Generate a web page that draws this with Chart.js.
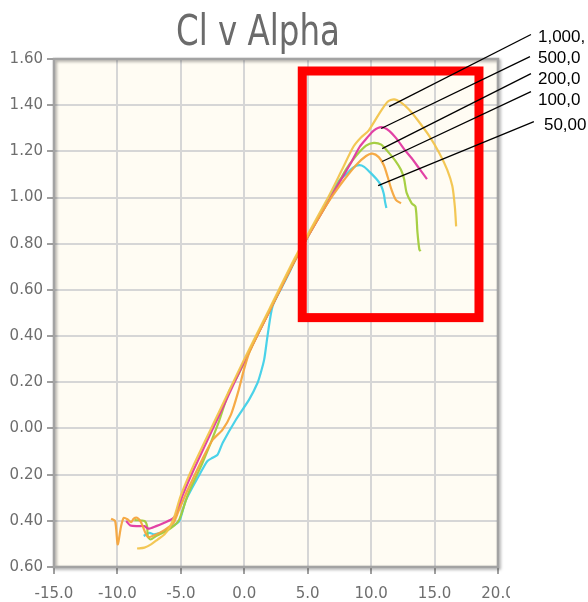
<!DOCTYPE html>
<html>
<head>
<meta charset="utf-8">
<script src="https://cdn.jsdelivr.net/npm/chart.js@4.4.1/dist/chart.umd.min.js"></script>
<style>
html, body { margin: 0; padding: 0; background: #fff; overflow: hidden; }
#wrap { position: relative; width: 588px; height: 602px; overflow: hidden; }
#clChart { position: absolute; left: -8px; top: 0; }
</style>
</head>
<body>
<div id="wrap"><canvas id="clChart" width="596" height="602"></canvas></div>
<script>
const titleText = 'Cl v Alpha';

// angle of attack (deg) and lift coefficient, one pair of arrays per Reynolds number
const alpha1M = [-8.45, -7.87, -7.35, -6.83, -6.3, -5.9, -5.5, -5.0, -4.0, -2.0, 0, 2, 4, 5, 6.7, 7.7, 8.6, 9.2, 9.8, 10.6, 11.3, 11.8, 12.4, 13.0, 13.6, 14.6, 15.4, 16.0, 16.4, 16.6, 16.7];
const cl1M = [-0.52, -0.516, -0.502, -0.481, -0.459, -0.43, -0.38, -0.29, -0.16, 0.07, 0.30, 0.52, 0.74, 0.84, 1.01, 1.12, 1.22, 1.26, 1.29, 1.36, 1.415, 1.425, 1.41, 1.38, 1.34, 1.265, 1.19, 1.12, 1.05, 0.96, 0.875];

const alpha500k = [-9.31, -8.98, -8.4, -7.87, -7.56, -6.95, -6.3, -5.65, -5.38, -4.86, -4, -2, 0, 2, 4, 5, 6.8, 8.3, 9.1, 9.7, 10.2, 10.8, 11.4, 12.0, 12.6, 13.2, 13.8, 14.4];
const cl500k = [-0.401, -0.42, -0.423, -0.423, -0.434, -0.423, -0.408, -0.391, -0.372, -0.29, -0.18, 0.055, 0.29, 0.51, 0.73, 0.83, 1.0, 1.14, 1.22, 1.26, 1.29, 1.305, 1.29, 1.255, 1.21, 1.17, 1.125, 1.08];

const alpha200k = [-8.66, -7.87, -7.66, -7.61, -7.4, -6.95, -6.17, -5.51, -5.12, -4.4, -3.3, -2.0, -1.2, -0.5, 1, 3, 5, 6.7, 8.0, 8.8, 9.6, 10.2, 10.8, 11.3, 11.9, 12.35, 12.6, 12.8, 13.2, 13.5, 13.65, 13.8, 13.9];
const cl200k = [-0.397, -0.401, -0.423, -0.466, -0.481, -0.466, -0.445, -0.42, -0.394, -0.28, -0.15, 0.03, 0.16, 0.23, 0.40, 0.62, 0.83, 0.99, 1.12, 1.18, 1.225, 1.237, 1.229, 1.2, 1.16, 1.12, 1.08, 1.02, 0.975, 0.96, 0.85, 0.775, 0.768];

const alpha100k = [-10.5, -10.18, -9.98, -9.71, -9.5, -9.19, -8.92, -8.72, -8.45, -8.19, -8.01, -7.6, -7.0, -6.3, -5.6, -5.2, -4.5, -4.07, -3.28, -2.5, -1.71, -1.05, -0.5, 0, 0.4, 1, 2, 3, 4, 5, 6.5, 7.5, 8.8, 9.6, 10.1, 10.6, 11.0, 11.3, 11.6, 11.95, 12.35];
const cl100k = [-0.391, -0.401, -0.502, -0.423, -0.387, -0.394, -0.406, -0.391, -0.387, -0.401, -0.423, -0.47, -0.46, -0.44, -0.41, -0.36, -0.27, -0.22, -0.13, -0.05, -0.005, 0.06, 0.155, 0.26, 0.33, 0.40, 0.51, 0.62, 0.73, 0.83, 0.97, 1.05, 1.14, 1.18, 1.19, 1.175, 1.14, 1.09, 1.035, 0.99, 0.975];

const alpha50k = [-7.93, -7.48, -7.09, -6.3, -5.65, -5.12, -4.6, -3.3, -2.9, -2.5, -2.1, -1.7, -0.65, 0.39, 1.05, 1.3, 1.57, 1.83, 2.23, 3.0, 3.54, 4, 5, 6, 7.0, 7.5, 8.0, 8.6, 9.05, 9.45, 9.9, 10.5, 10.8, 11.0, 11.1, 11.2];
const cl50k = [-0.466, -0.452, -0.459, -0.445, -0.423, -0.401, -0.31, -0.177, -0.141, -0.127, -0.113, -0.062, 0.039, 0.126, 0.198, 0.241, 0.299, 0.40, 0.53, 0.616, 0.674, 0.73, 0.83, 0.93, 1.03, 1.075, 1.1, 1.13, 1.14, 1.133, 1.11, 1.075, 1.05, 1.015, 0.98, 0.955];

// callout labels (cut off at the right edge in the source) and where their lines run, in axis units
const noteLabels = ['1,000,', '500,0', '200,0', '100,0', '50,00'];
const noteFromAlpha = [11.42, 10.79, 10.87, 10.87, 10.55];
const noteFromCl = [1.394, 1.299, 1.212, 1.156, 1.052];
const noteToAlpha = [22.6, 22.52, 22.6, 22.6, 22.83];
const noteToCl = [1.706, 1.61, 1.537, 1.459, 1.329];
const noteTextAlpha = [23.15, 23.15, 23.15, 23.15, 23.62];
const noteTextCl = [1.692, 1.604, 1.51, 1.42, 1.312];

// red highlight box corners, axis units
const boxAlpha = [4.57, 18.5];
const boxCl = [1.548, 0.48];

const toPoints = (xs, ys) => xs.map((x, i) => ({ x: x, y: ys[i] }));

const series = [
    { label: '1,000,000', xs: alpha1M, ys: cl1M, color: 'rgba(242,196,76,0.95)' },
    { label: '100,000', xs: alpha100k, ys: cl100k, color: 'rgba(245,165,60,0.95)' },
    { label: '500,000', xs: alpha500k, ys: cl500k, color: 'rgba(224,56,160,0.95)' },
    { label: '200,000', xs: alpha200k, ys: cl200k, color: 'rgba(162,204,58,0.95)' },
    { label: '50,000', xs: alpha50k, ys: cl50k, color: 'rgba(64,208,232,0.95)' }
];

const notes = {
    id: 'notes',
    beforeDraw: (chart) => {
        const { ctx, chartArea: a } = chart;
        ctx.save();
        ctx.fillStyle = '#fffcf3';
        ctx.fillRect(a.left, a.top, a.right - a.left, a.bottom - a.top);
        // narrow title: squeeze the glyphs sideways
        ctx.fillStyle = '#6b6b6b';
        ctx.font = '42px "DejaVu Sans Condensed", "DejaVu Sans", sans-serif';
        ctx.textAlign = 'center';
        ctx.textBaseline = 'alphabetic';
        ctx.translate(266, 45);
        ctx.scale(0.86, 1);
        ctx.fillText(titleText, 0, 0);
        ctx.restore();
        // the source picture is cropped: minus signs on the left, last x label on the right
        ctx.save();
        ctx.beginPath();
        ctx.rect(17, 0, 501, chart.height);
        ctx.clip();
    },
    beforeDatasetsDraw: (chart) => {
        const { ctx, chartArea: a } = chart;
        ctx.save();
        ctx.strokeStyle = '#a3a3a3';
        ctx.lineWidth = 2.5;
        ctx.shadowColor = 'rgba(0,0,0,0.35)';
        ctx.shadowBlur = 3;
        ctx.shadowOffsetX = 1.5;
        ctx.shadowOffsetY = 1.5;
        ctx.strokeRect(a.left, a.top, a.right - a.left, a.bottom - a.top);
        ctx.restore();
    },
    afterDraw: (chart) => {
        const { ctx, scales: { x, y } } = chart;
        ctx.restore();
        ctx.save();
        // red box
        const bx0 = x.getPixelForValue(boxAlpha[0]);
        const bx1 = x.getPixelForValue(boxAlpha[1]);
        const by0 = y.getPixelForValue(boxCl[0]);
        const by1 = y.getPixelForValue(boxCl[1]);
        ctx.strokeStyle = '#ff0000';
        ctx.lineWidth = 9;
        ctx.strokeRect(bx0, by0, bx1 - bx0, by1 - by0);
        // callout lines and text
        ctx.strokeStyle = '#000';
        ctx.lineWidth = 1.3;
        ctx.fillStyle = '#000';
        ctx.font = '17px "Liberation Sans", Arial, sans-serif';
        ctx.textAlign = 'left';
        ctx.textBaseline = 'middle';
        noteLabels.forEach((txt, i) => {
            ctx.beginPath();
            ctx.moveTo(x.getPixelForValue(noteFromAlpha[i]), y.getPixelForValue(noteFromCl[i]));
            ctx.lineTo(x.getPixelForValue(noteToAlpha[i]), y.getPixelForValue(noteToCl[i]));
            ctx.stroke();
            ctx.fillText(txt, x.getPixelForValue(noteTextAlpha[i]), y.getPixelForValue(noteTextCl[i]));
        });
        ctx.restore();
    }
};

const tickFont = { family: '"DejaVu Sans", Verdana, sans-serif', size: 15 };

const chart = new Chart(document.getElementById('clChart').getContext('2d'), {
    type: 'line',
    data: {
        datasets: series.map(s => ({
            label: s.label,
            data: toPoints(s.xs, s.ys),
            borderColor: s.color,
            borderWidth: 2.2,
            pointRadius: 0,
            tension: 0.25,
            fill: false
        }))
    },
    options: {
        responsive: false,
        animation: false,
        layout: { padding: { top: 59, right: 90, left: 0, bottom: 0 } },
        plugins: {
            legend: { display: false },
            tooltip: { enabled: false },
            title: { display: false }
        },
        scales: {
            x: {
                type: 'linear',
                min: -15,
                max: 20,
                afterFit: (scale) => { scale.height = 35; },
                ticks: {
                    stepSize: 5,
                    color: '#6e6e6e',
                    font: tickFont,
                    padding: 11,
                    maxRotation: 0,
                    callback: (v) => v.toFixed(1)
                },
                grid: { color: '#d6d6d6', lineWidth: 2, tickColor: '#a0a0a0', tickLength: 7, tickWidth: 2 },
                border: { display: false }
            },
            y: {
                type: 'linear',
                min: -0.6,
                max: 1.6,
                afterFit: (scale) => { scale.width = 62; },
                ticks: {
                    stepSize: 0.2,
                    color: '#6e6e6e',
                    font: tickFont,
                    padding: 4,
                    callback: (v) => v.toFixed(2)
                },
                grid: { color: '#d6d6d6', lineWidth: 2, tickColor: '#a0a0a0', tickLength: 7, tickWidth: 2 },
                border: { display: false }
            }
        }
    },
    plugins: [notes]
});
</script>
</body>
</html>
